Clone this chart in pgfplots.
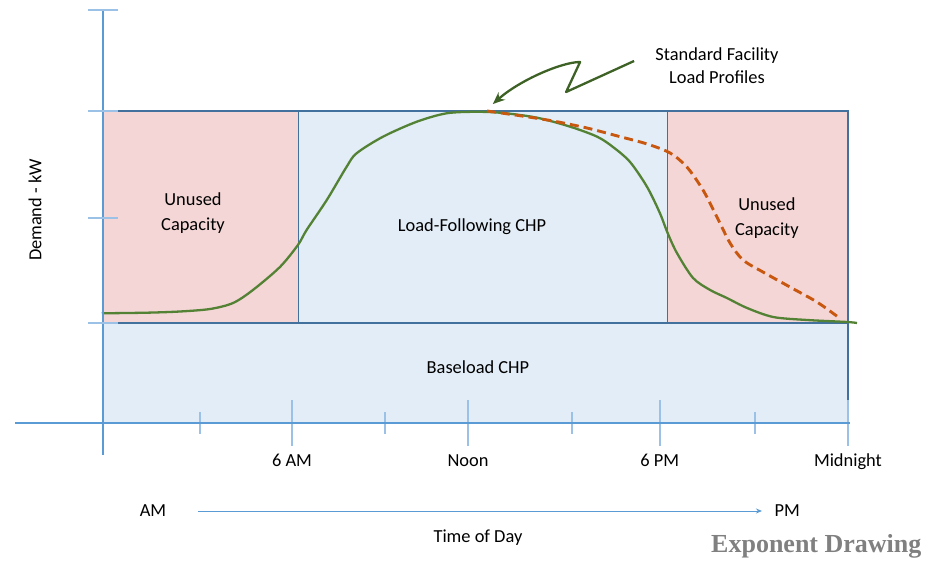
\documentclass[border=0pt]{standalone}
\usepackage{fontspec}
\setmainfont{Carlito}
\newfontfamily\wmfont{Liberation Serif}
\usepackage{pgfplots}
\usepackage{pgfplotstable}
\pgfplotsset{compat=1.18}
\usetikzlibrary{arrows.meta}

\definecolor{axisblue}{RGB}{91,155,213}
\definecolor{tickblue}{RGB}{155,194,230}
\definecolor{boxedge}{RGB}{65,113,156}
\definecolor{loadblue}{RGB}{227,237,247}
\definecolor{unusedpink}{RGB}{244,214,214}
\definecolor{profgreen}{RGB}{84,130,53}
\definecolor{arrowgreen}{RGB}{62,98,38}
\definecolor{peakorange}{RGB}{200,88,16}

% typical facility demand over the day (hour, kW)
\pgfplotstableread{
hour kW
-0.04 109.7
1.41 110.3
2.48 111.5
3.45 114
4.19 120
4.83 133
5.70 156
6.28 178
6.56 193
7.21 223
7.85 256.3
8.17 269.7
9.02 286.3
10.11 301.3
11.07 309.7
12.04 311.2
12.89 310
13.98 305.3
15.05 296.3
15.92 286.3
16.43 276
16.98 261
17.53 236
17.94 210
18.19 190
18.49 170
19.01 145
19.56 133
20.10 125
20.75 115
21.59 106
22.68 103
23.97 101
24.29 100
}\typical

% alternative profile with a longer evening load
\pgfplotstableread{
hour kW
12.37 312
13.43 307.3
14.50 302
15.59 295
16.66 286.3
17.53 279
18.27 270
18.81 256
19.33 233
19.78 206
20.20 180
20.62 163
21.26 151
22.13 136
23.00 121
23.68 106
}\extended

\begin{document}
\begin{tikzpicture}
\path (0,0) rectangle (940pt,560pt);
\begin{axis}[
  scale only axis, width=835pt, height=445pt,
  at={(15pt,105pt)}, anchor=south west,
  xmin=-2.835, xmax=24.066, ymin=-32, ymax=413,
  axis lines=middle, axis on top, clip=false,
  axis line style={-, axisblue, line width=1.1pt},
  xtick={6.09,11.76,17.94,24},
  xticklabels={6 AM,Noon,6 PM,Midnight},
  minor xtick={3.12,9.09,15.11,21.0},
  ytick=\empty,
  extra y ticks={100,205,312,413},
  extra y tick labels={},
  extra y tick style={major tick length=30pt},
  major tick length=46pt, minor tick length=22pt, tick align=center,
  tick style={tickblue, line width=1.6pt},
  minor tick style={tickblue, line width=1.6pt},
  xticklabel style={anchor=base, yshift=-21pt, font=\fontsize{18.4}{22}\selectfont},
]
% capacity blocks
\addplot[draw=boxedge, line width=1.3pt, fill=loadblue] coordinates {(0,0) (24,0) (24,100) (0,100)} -- cycle;
\addplot[draw=boxedge, line width=1.3pt, fill=unusedpink] coordinates {(0,100) (6.29,100) (6.29,312) (0,312)} -- cycle;
\addplot[draw=boxedge, line width=1.3pt, fill=loadblue] coordinates {(6.29,100) (18.19,100) (18.19,312) (6.29,312)} -- cycle;
\addplot[draw=boxedge, line width=1.3pt, fill=unusedpink] coordinates {(18.19,100) (24,100) (24,312) (18.19,312)} -- cycle;

% load profiles
\addplot[profgreen, line width=2.3pt, smooth, tension=0.5] table[x=hour, y=kW] {\typical};
\addplot[peakorange, line width=2.9pt, dash pattern=on 9pt off 5pt, smooth, tension=0.5] table[x=hour, y=kW] {\extended};

% block labels
\begin{scope}[font=\fontsize{18.4}{25}\selectfont]
\node[align=center] at (axis cs:2.90,210) {Unused\\Capacity};
\node[align=center] at (axis cs:21.39,205) {Unused\\Capacity};
\node at (axis cs:11.89,196) {Load-Following CHP};
\node at (axis cs:12.08,56) {Baseload CHP};
\node[align=center, font=\fontsize{18.4}{23}\selectfont] at (axis cs:19.78,357) {Standard Facility\\Load Profiles};
\node[rotate=90] at (axis cs:-2.19,213) {Demand - kW};
\node at (axis cs:1.61,-88) {AM};
\node at (axis cs:22.04,-88) {PM};
\node at (axis cs:12.08,-115) {Time of Day};
\end{scope}

% callout arrow
\draw[arrowgreen, line width=2.3pt, line join=round, -{Stealth[length=12pt, width=10pt]}]
  (axis cs:17.11,362) -- (axis cs:14.92,331) -- (axis cs:15.37,361)
  .. controls (axis cs:14.79,361) and (axis cs:13.43,343) .. (axis cs:12.56,319);

% time direction arrow
\draw[axisblue, line width=0.9pt, -{Stealth[length=6pt, width=5pt]}] (axis cs:3.06,-88) -- (axis cs:21.23,-88);

\node[anchor=base east, font=\wmfont\bfseries\fontsize{26}{30}\selectfont, text=gray] at (axis cs:26.48,-130) {Exponent Drawing};
\end{axis}
\end{tikzpicture}
\end{document}
